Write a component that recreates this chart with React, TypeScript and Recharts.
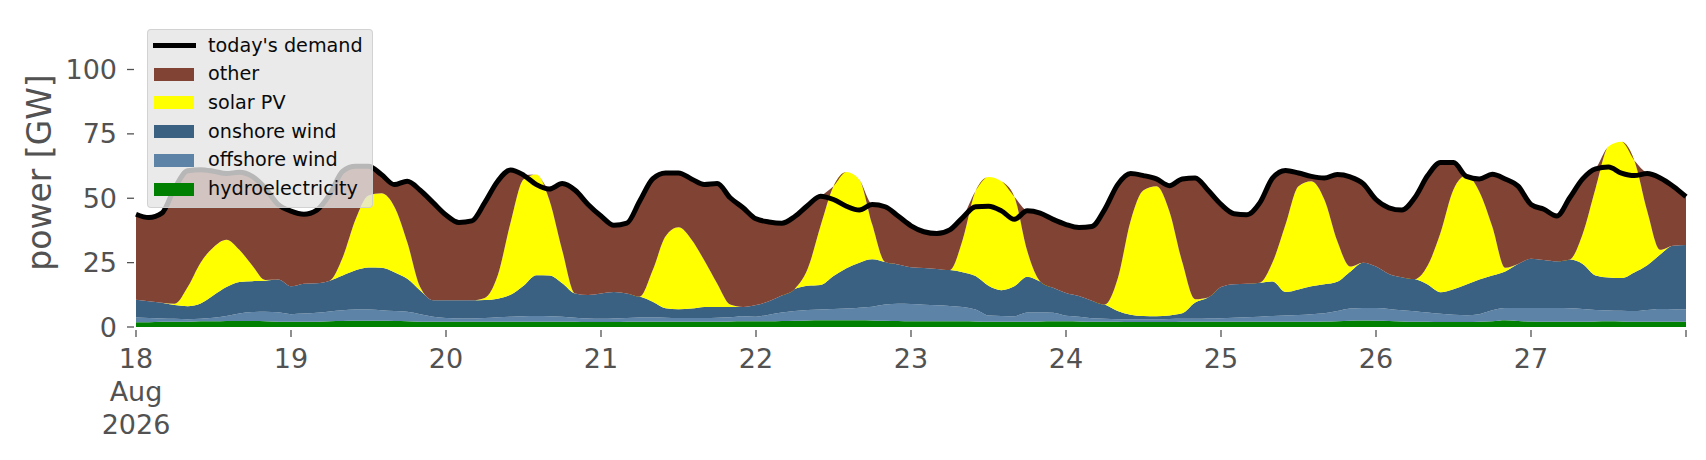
import { ComposedChart, Area, Line, XAxis, YAxis } from 'recharts'

// two-hourly samples from 18 Aug 2026 00:00 to 28 Aug 00:00, values in GW
const demand = [
  43.8, 42.5, 44.2, 54, 60.7, 61.1, 60.5, 59.6, 60.1, 58.5, 54, 47.6, // 18
  45, 43.8, 45.4, 51.5, 60.5, 62.4, 62.4, 59.2, 55.3, 56.6, 53.1, 48.3, // 19
  43.5, 40.6, 41.2, 48.3, 56.6, 61, 59, 55.3, 53.6, 55.7, 53.1, 47.6, // 20
  43.1, 39.5, 40.3, 48.9, 57.5, 59.8, 59.8, 57.5, 55.3, 55.7, 50.2, 46.3, // 21
  42, 40.8, 40.3, 42.9, 47.2, 50.8, 49.5, 46.9, 45.4, 47.6, 46.7, 43.1, // 22
  39.3, 37, 36.3, 37.7, 42.5, 46.7, 46.9, 45.1, 41.8, 45.1, 44.2, 41.8, // 23
  39.8, 38.6, 39, 45.7, 55.3, 59.6, 58.8, 57.5, 54.9, 57.5, 57.9, 53.1, // 24
  47.6, 44, 43.6, 48.2, 57.9, 60.8, 59.8, 58.5, 57.9, 59.2, 58.3, 55.7, // 25
  49.5, 46.3, 45.4, 50.2, 58.8, 63.9, 63.9, 58.5, 57.5, 59.3, 57.5, 54.7, // 26
  47.6, 45.7, 43.1, 50.2, 57.5, 61.4, 62.1, 59.8, 58.8, 59.6, 57.9, 54.7, // 27
  50.6,
]

const hydro = [
  1.8, 1.8, 2, 2, 2, 2.2, 2.2, 2.3, 2.3, 2.3, 2.2, 2,
  2, 2, 2, 2.2, 2.3, 2.4, 2.4, 2.4, 2.3, 2.2, 2, 2,
  2, 2, 2, 2, 2, 2, 2, 2, 2, 2, 2, 1.9,
  1.9, 1.9, 2, 2, 2, 2, 2, 2, 2, 2, 2.1, 2.2,
  2.2, 2.2, 2.3, 2.4, 2.5, 2.6, 2.6, 2.6, 2.6, 2.5, 2.4, 2.3,
  2.2, 2.2, 2.2, 2.2, 2.2, 2.1, 2, 2, 2, 2, 2.1, 2.2,
  2.2, 2.1, 2, 2, 2, 1.9, 1.9, 1.9, 1.9, 2, 2, 2,
  2, 2, 2, 2, 2, 2, 2, 2, 2.1, 2.2, 2.4, 2.5,
  2.4, 2.3, 2.1, 2, 2, 1.9, 1.9, 1.9, 2, 2.2, 2.6, 2.3,
  2.1, 2, 2, 2, 2, 2.1, 2.2, 2.1, 2, 2, 2, 2,
  2,
]

const offshore = [
  1.9, 1.7, 1.3, 1.2, 1.0, 1.0, 1.4, 2.0, 2.9, 3.5, 3.7, 3.7,
  3.0, 3.2, 3.5, 3.8, 4.2, 4.4, 4.4, 4.1, 3.9, 3.7, 3.0, 2.0,
  1.5, 1.3, 1.3, 1.5, 1.8, 2.0, 2.2, 2.3, 2.2, 2.0, 1.6, 1.4,
  1.3, 1.4, 1.5, 1.7, 1.7, 1.6, 1.5, 1.5, 1.5, 1.6, 1.7, 2.0,
  1.8, 2.6, 3.3, 3.8, 4.1, 4.2, 4.4, 4.6, 4.9, 5.4, 6.3, 6.7,
  6.7, 6.4, 6.2, 6.0, 5.6, 4.7, 2.5, 2.3, 2.2, 3.6, 3.5, 3.3,
  2.2, 1.9, 1.4, 1.2, 1.0, 1.1, 1.1, 1.1, 1.2, 1.2, 1.2, 1.3,
  1.4, 1.6, 1.8, 2.0, 2.3, 2.5, 2.7, 3.0, 3.2, 4.0, 4.8, 4.9,
  5.0, 4.7, 4.4, 4.1, 3.6, 3.2, 2.9, 2.7, 3.0, 4.3, 4.8, 5.1,
  5.3, 5.4, 5.4, 5.3, 5.0, 4.5, 4.2, 4.2, 4.2, 4.6, 5.0, 4.9,
  4.8,
]

const onshore = [
  6.9, 6.5, 6.1, 5.3, 5.1, 5.9, 8.7, 11.2, 12.3, 12, 12.1, 12.7,
  10.8, 11.6, 11.5, 12, 13.5, 15.2, 16.3, 16.5, 15.1, 12.8, 9.2, 6.4,
  6.9, 7.1, 7.1, 7.0, 7.2, 8.5, 11.8, 15.8, 15.8, 13, 9.4, 9.1,
  9.8, 10.3, 9.5, 8.1, 6.1, 3.7, 3.4, 3.7, 4.3, 4.2, 4.0, 3.6,
  4.5, 5.2, 6.6, 8.6, 9.4, 9.5, 12.8, 15.6, 17.5, 18.4, 16.5, 15.3,
  14.3, 14.3, 14.1, 13.9, 13.5, 13, 11.5, 10, 11.6, 13.9, 12.1, 9.7,
  8.8, 8, 6.8, 5.5, 3.2, 1.8, 1.3, 1.2, 1.4, 2.1, 6.3, 8.2,
  12.1, 13, 13, 13.2, 13.4, 9.1, 9.9, 10.8, 11.3, 11.4, 14.3, 17.6,
  16.1, 13.6, 12.8, 12.5, 10.9, 8.4, 9.9, 11.9, 13.4, 13.5, 14.2, 17.1,
  19.1, 18.6, 18.1, 18.9, 17.5, 13.4, 12.8, 12.7, 15, 17.4, 21.2, 24.7,
  25,
]

const solar = [
  0, 0, 0, 0.5, 7.4, 15.9, 18.7, 18.4, 12.5, 6.1, 0.3, 0,
  0, 0, 0, 0, 7, 19.8, 28, 28.9, 25.4, 14.2, 1.3, 0,
  0, 0, 0, 0.8, 9, 28.1, 41.3, 39.1, 29.3, 12.7, 0, 0,
  0, 0, 0, 0, 12.2, 27.9, 31.8, 26.8, 18, 9, 0.9, 0,
  0, 0, 0, 0, 6.6, 23, 34.9, 37.4, 32.2, 13.5, 0, 0,
  0, 0, 0, 0, 12.6, 33, 42.3, 42.3, 34.8, 10, 0, 0,
  0, 0, 0, 0, 12.5, 36.4, 48.8, 50.5, 40.5, 19.9, 1.3, 0,
  0, 0, 0, 0, 7.5, 26.3, 40.1, 40.8, 32.9, 15.8, 2, 0,
  0, 0, 0, 0, 7.4, 23.2, 38.7, 42.3, 34.1, 19, 1.4, 0,
  0, 0, 0, 0, 11.6, 33.9, 50.9, 52.9, 43.5, 21, 1.8, 0,
  0,
]

const other = [
  33.2, 32.5, 34.8, 45, 45.2, 36.1, 29.5, 25.7, 30.1, 34.6, 35.7, 29.2,
  29.2, 27, 28.4, 33.5, 33.5, 20.6, 11.3, 7.3, 8.6, 23.7, 37.6, 37.9,
  33.1, 30.2, 30.8, 37, 36.6, 20.4, 1.7, 0, 4.3, 26, 40.1, 35.2,
  30.1, 25.9, 27.3, 37.1, 35.5, 24.6, 21.1, 23.5, 29.5, 38.9, 41.5, 38.5,
  33.5, 30.8, 28.1, 28.1, 24.6, 11.5, 0, 0, 0, 7.8, 21.5, 18.8,
  16.1, 14.1, 13.8, 15.6, 8.6, 0, 0, 0, 0, 15.6, 26.5, 26.6,
  26.6, 26.6, 28.8, 37, 36.6, 18.4, 5.7, 2.8, 9.9, 32.3, 47.1, 41.6,
  32.1, 27.4, 26.8, 31, 32.7, 20.9, 5.1, 1.9, 8.4, 25.8, 34.8, 30.7,
  26, 25.7, 26.1, 31.6, 34.9, 27.2, 10.5, 0, 5, 20.3, 34.5, 30.2,
  21.1, 19.7, 17.6, 24, 21.4, 7.5, 0, 0, 0, 14.6, 27.9, 23.1,
  18.8,
]

const dayTicks = [0, 24, 48, 72, 96, 120, 144, 168, 192, 216, 240]
const dayLabels = ['18\nAug\n2026', '19', '20', '21', '22', '23', '24', '25', '26', '27', '']
const powerTicks = [0, 25, 50, 75, 100]

const COLORS = {
  demand: '#000000',
  other: '#814334',
  solar: '#ffff00',
  onshore: '#3b6182',
  offshore: '#5d83a7',
  hydro: '#008000',
}

const legendItems = [
  { label: "today's demand", color: COLORS.demand, line: true },
  { label: 'other', color: COLORS.other },
  { label: 'solar PV', color: COLORS.solar },
  { label: 'onshore wind', color: COLORS.onshore },
  { label: 'offshore wind', color: COLORS.offshore },
  { label: 'hydroelectricity', color: COLORS.hydro },
]

const rows = demand.map((d, i) => ({
  h: i * 2,
  demand: d,
  hydro: hydro[i],
  offshore: offshore[i],
  onshore: onshore[i],
  solar: solar[i],
  other: other[i],
}))

const FONT = '"DejaVu Sans", sans-serif'
const TEXT = '#525252'

function YTick({ y, payload }: any) {
  return (
    <g>
      <line x1={127} x2={134} y1={y} y2={y} stroke={TEXT} strokeWidth={1.3} />
      <text x={117} y={y} textAnchor="end" dominantBaseline="central" fontFamily={FONT} fontSize={27} fill={TEXT}>
        {payload.value}
      </text>
    </g>
  )
}

function XTick({ x, payload }: any) {
  const idx = dayTicks.indexOf(payload.value)
  const lines = (dayLabels[idx] ?? '').split('\n')
  return (
    <g>
      <line x1={x} x2={x} y1={330} y2={337} stroke={TEXT} strokeWidth={1.3} />
      {lines.map((t, i) => (
        <text key={i} x={x} y={358 + i * 33} textAnchor="middle" dominantBaseline="central" fontFamily={FONT} fontSize={27} fill={TEXT}>
          {t}
        </text>
      ))}
    </g>
  )
}

function YLabel({ viewBox }: any) {
  const cy = viewBox.y + viewBox.height / 2
  return (
    <text x={39} y={cy} transform={`rotate(-90 39 ${cy})`} textAnchor="middle" dominantBaseline="central" fontFamily={FONT} fontSize={33} fill={TEXT}>
      power [GW]
    </text>
  )
}

function LegendBox() {
  return (
    <div style={{
      position: 'absolute', left: 147, top: 29, width: 226, height: 179, boxSizing: 'border-box',
      background: 'rgba(229,229,229,0.8)', border: '1px solid rgba(204,204,204,0.8)', borderRadius: 4,
      fontFamily: FONT, fontSize: 19.2, color: '#0a0a0a',
    }}>
      {legendItems.map((it, i) => {
        const cy = 15.5 + i * 28.7
        return (
          <div key={it.label}>
            {it.line ? (
              <div style={{ position: 'absolute', left: 5, top: cy - 3, width: 43, height: 5, background: it.color }} />
            ) : (
              <div style={{ position: 'absolute', left: 6, top: cy - 6.5, width: 40, height: 13, background: it.color }} />
            )}
            <div style={{ position: 'absolute', left: 60, top: cy - 11, lineHeight: '22px', whiteSpace: 'nowrap' }}>{it.label}</div>
          </div>
        )
      })}
    </div>
  )
}

export default function App() {
  return (
    <div style={{ position: 'absolute', left: 0, top: 0, width: 1706, height: 460, background: '#fff' }}>
      <ComposedChart width={1706} height={460} data={rows} margin={{ top: 18, right: 20, bottom: 0, left: 0 }}>
        <XAxis
          dataKey="h" type="number" domain={[0, 240]} ticks={dayTicks} interval={0}
          axisLine={false} tickLine={false} height={133} tick={<XTick />}
        />
        <YAxis
          type="number" domain={[0, 120]} ticks={powerTicks} interval={0}
          axisLine={false} tickLine={false} width={136} tick={<YTick />}
          label={<YLabel />}
        />
        <Area type="monotone" dataKey="hydro" stackId="s" fill={COLORS.hydro} fillOpacity={1} stroke="none" isAnimationActive={false} />
        <Area type="monotone" dataKey="offshore" stackId="s" fill={COLORS.offshore} fillOpacity={1} stroke="none" isAnimationActive={false} />
        <Area type="monotone" dataKey="onshore" stackId="s" fill={COLORS.onshore} fillOpacity={1} stroke="none" isAnimationActive={false} />
        <Area type="monotone" dataKey="solar" stackId="s" fill={COLORS.solar} fillOpacity={1} stroke="none" isAnimationActive={false} />
        <Area type="monotone" dataKey="other" stackId="s" fill={COLORS.other} fillOpacity={1} stroke="none" isAnimationActive={false} />
        <Line type="monotone" dataKey="demand" stroke={COLORS.demand} strokeWidth={5} dot={false} isAnimationActive={false} />
      </ComposedChart>
      <LegendBox />
    </div>
  )
}
